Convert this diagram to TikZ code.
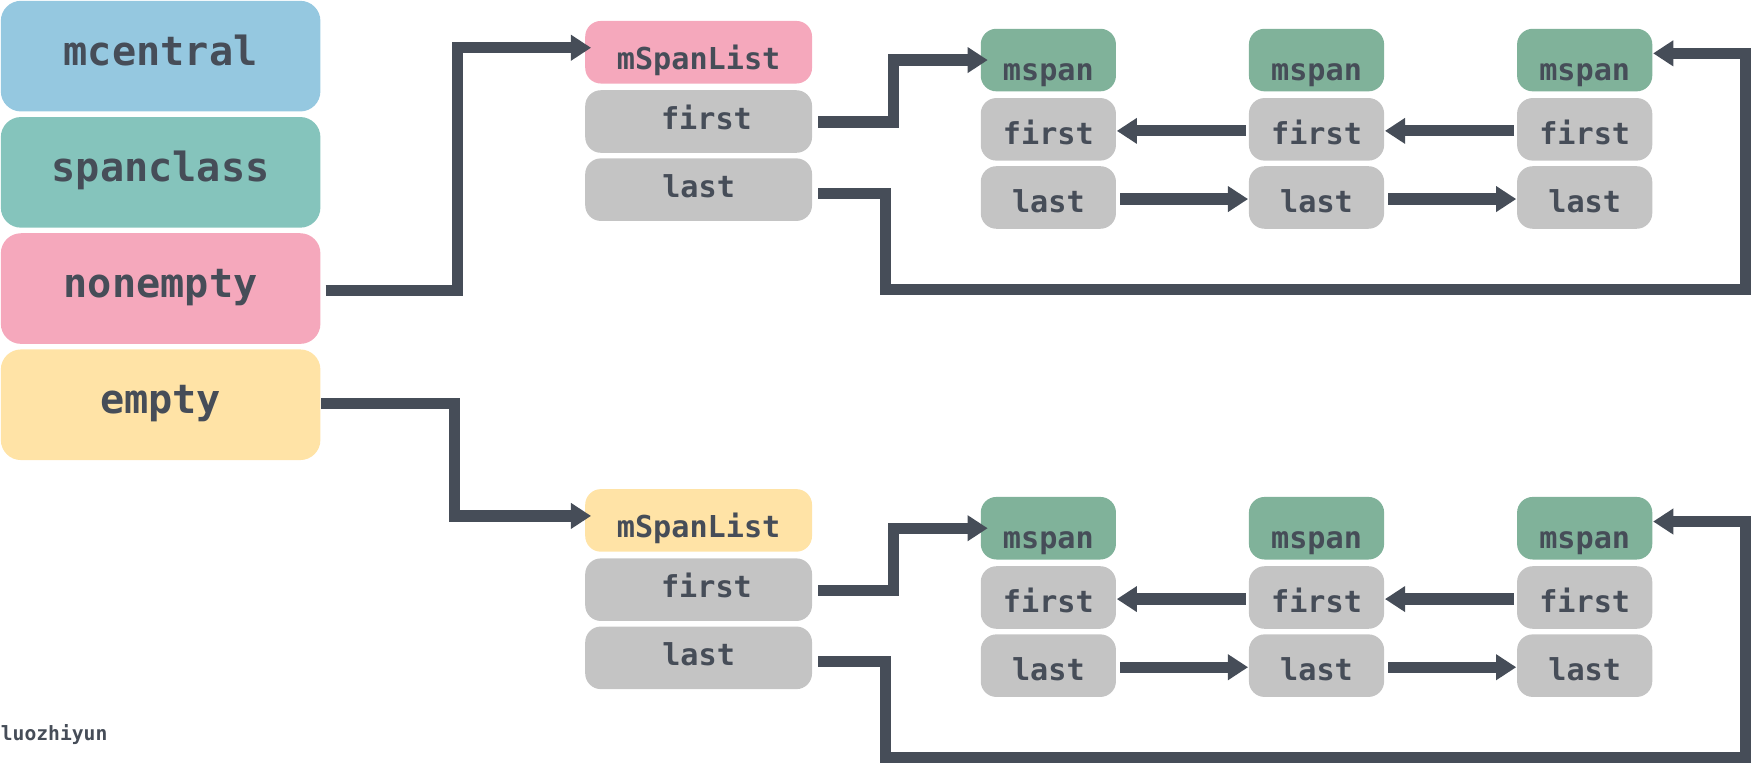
\documentclass[tikz,border=0pt]{standalone}
\usepackage{fontspec}
\setmonofont{DejaVu Sans Mono}
\usetikzlibrary{arrows.meta}
\definecolor{ink}{RGB}{70,77,88}
\definecolor{blueC}{RGB}{149,200,224}
\definecolor{tealC}{RGB}{133,196,188}
\definecolor{pinkC}{RGB}{245,168,188}
\definecolor{yellowC}{RGB}{255,227,166}
\definecolor{grayC}{RGB}{196,196,196}
\definecolor{greenC}{RGB}{128,178,154}
\tikzset{every picture/.style={line width=0.75pt},
  bigbox/.style={anchor=north west, rounded corners=9pt, inner sep=0pt,
    minimum width=143pt, minimum height=49.5pt, text=ink,
    text height=12pt, text depth=4pt,
    font=\ttfamily\bfseries\fontsize{18}{20}\selectfont},
  smallbox/.style={anchor=north west, rounded corners=7pt, inner sep=0pt,
    minimum height=28pt, text=ink, text height=10pt, text depth=2.7pt,
    font=\ttfamily\bfseries\fontsize{13.5}{15}\selectfont},
  listbox/.style={smallbox, minimum width=101.5pt},
  spanbox/.style={smallbox, minimum width=60.5pt, fill=grayC, text height=16pt},
  spanhead/.style={spanbox, fill=greenC, text height=21pt},
  link/.style={draw=ink, line width=5pt, -{Triangle[length=9pt,width=11pt]}}
}
\begin{document}
\begin{tikzpicture}[x=0.5pt,y=-0.5pt]
\useasboundingbox (0,0) rectangle (1568,684);

% mcentral
\node[bigbox, fill=blueC] (mcentral) at (0,0) {mcentral};
\node[bigbox, fill=tealC] (spanclass) at (0,104) {spanclass};
\node[bigbox, fill=pinkC] (nonempty) at (0,208) {nonempty};
\node[bigbox, fill=yellowC] (empty) at (0,312) {empty};

% the two span lists
\foreach \g/\dy/\col in {top/0/pinkC, bot/419/yellowC} {
  \node[listbox, fill=\col, text height=18pt] (\g-h) at (523,18+\dy) {mSpanList};
  \node[listbox, fill=grayC] (\g-f) at (523,80+\dy) {\hspace{7pt}first};
  \node[listbox, fill=grayC] (\g-l) at (523,141+\dy) {last};
  \foreach \c/\x in {1/877,2/1117,3/1357} {
    \node[spanhead] (\g-s\c h) at (\x,25+\dy) {mspan};
    \node[spanbox] (\g-s\c f) at (\x,87+\dy) {first};
    \node[spanbox] (\g-s\c l) at (\x,148+\dy) {last};
  }
  \coordinate (\g-loop) at (1562,259+\dy);
  \draw[link] ([xshift=2.5pt,yshift=-0.2pt]\g-f.east) -- ++(67,0) |- ([xshift=3.5pt]\g-s1h.west);
  \draw[link] ([xshift=2.5pt,yshift=-1.7pt]\g-l.east) -- ++(60,0) |- (\g-loop) |- ([yshift=3pt]\g-s3h.east);
  \draw[link, shorten <=1pt] ([yshift=-0.7pt]\g-s3f.west) -- ([yshift=-0.7pt]\g-s2f.east);
  \draw[link, shorten <=1pt] ([yshift=-0.7pt]\g-s2f.west) -- ([yshift=-0.7pt]\g-s1f.east);
  \draw[link, shorten <=1.5pt] ([yshift=-0.7pt]\g-s1l.east) -- ([yshift=-0.7pt]\g-s2l.west);
  \draw[link, shorten <=1.5pt] ([yshift=-0.7pt]\g-s2l.east) -- ([yshift=-0.7pt]\g-s3l.west);
}

% links from mcentral
\draw[link] ([xshift=2pt,yshift=-0.7pt]nonempty.east) -- ++(118,0) |- ([xshift=3pt,yshift=2pt]top-h.west);
\draw[link] ([yshift=0.7pt]empty.east) -- ++(119,0) |- ([xshift=3pt,yshift=2pt]bot-h.west);

\node[anchor=west, inner sep=0pt, text=ink, font=\ttfamily\bfseries\fontsize{8.8}{10}\selectfont] (sign) at (0,657) {luozhiyun};
\end{tikzpicture}
\end{document}
